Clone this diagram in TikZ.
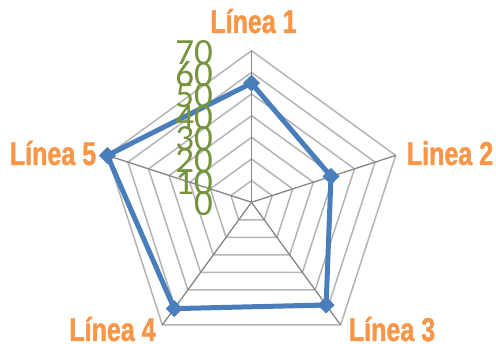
\documentclass[tikz,border=0pt]{standalone}
\usepackage{fontspec}
\setmainfont{Carlito}
\newfontfamily\labfont{Liberation Sans}[FakeStretch=0.76,FakeBold=1.2]
\definecolor{tickgreen}{HTML}{77933C}
\definecolor{laborange}{HTML}{F79646}
\definecolor{serblue}{HTML}{4A7EBB}
\definecolor{ringgray}{HTML}{B4B4B4}
\definecolor{axisgray}{HTML}{868686}
\begin{document}
\begin{tikzpicture}[x=1pt,y=1pt,
  ring/.style={draw=ringgray, line width=1.5pt, line join=miter},
  spoke/.style={draw=axisgray, line width=1.3pt},
  series/.style={draw=serblue, line width=5pt, line join=round},
  marker/.style={fill=serblue, rectangle, rotate=45, minimum size=12pt, inner sep=0pt},
  cat/.style={text=laborange, font=\labfont\bfseries\fontsize{33}{33}\selectfont, inner sep=0pt, anchor=base},
  tick/.style={text=tickgreen, font=\fontsize{37}{37}\selectfont, inner sep=0pt, anchor=east}]
\useasboundingbox (0,0) rectangle (496,344);
\begin{scope}[shift={(251.5,141.7)}]
  \def\uu{2.1657}
  \coordinate (O) at (0,0);
  \foreach \k in {1,...,7}
    \draw[ring] (90:{\k*10*\uu}) -- (18:{\k*10*\uu}) -- (-54:{\k*10*\uu}) -- (-126:{\k*10*\uu}) -- (162:{\k*10*\uu}) -- cycle;
  \foreach \a/\n in {90/1,18/2,-54/3,-126/4,162/5}
    \coordinate (v\n) at (\a:{70*\uu});
  \foreach \n in {1,...,5}
    \draw[spoke] (O) -- (v\n);
  \coordinate (p1) at (90:{55*\uu});
  \coordinate (p2) at (18:{38.6*\uu});
  \coordinate (p3) at (-54:{58.6*\uu});
  \coordinate (p4) at (-126:{60.7*\uu});
  \coordinate (p5) at (162:{70*\uu});
  \draw[series] (p1) -- (p2) -- (p3) -- (p4) -- (p5) -- cycle;
  \foreach \n in {1,...,5}
    \node[marker] (m\n) at (p\n) {};
  \foreach \k/\lab in {0/0,1/10,2/20,3/30,4/40,5/50,6/60,7/70}
    \node[tick] (t\k) at (-38.5, {\k*10*\uu-1.5}) {\lab};
\end{scope}
\node[cat] (c1) at (253.5,311) {Línea 1};
\node[cat] (c2) at (450,179) {Linea 2};
\node[cat] (c3) at (392,3) {Línea 3};
\node[cat] (c4) at (112.5,3) {Línea 4};
\node[cat] (c5) at (53,179) {Línea 5};
\end{tikzpicture}
\end{document}
